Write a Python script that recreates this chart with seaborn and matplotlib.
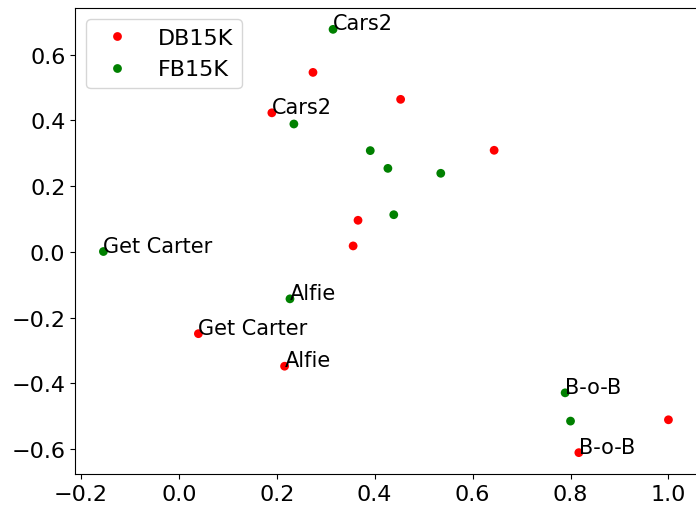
import pandas as pd
import seaborn as sns
import matplotlib
matplotlib.use('Agg')
import matplotlib.pyplot as plt

# DB15K embeddings (red)
db_labels = ['Cars2', '', '', '', '', '', 'Get Carter', 'Alfie', '', 'B-o-B']
db_x = [0.190, 0.274, 0.453, 0.644, 0.366, 0.356, 0.040, 0.216, 1.000, 0.817]
db_y = [0.423, 0.546, 0.464, 0.309, 0.096, 0.018, -0.249, -0.348, -0.511, -0.611]

# FB15K embeddings (green)
fb_labels = ['Cars2', '', '', '', '', '', 'Get Carter', 'Alfie', 'B-o-B', '']
fb_x = [0.315, 0.235, 0.391, 0.427, 0.535, 0.439, -0.154, 0.227, 0.789, 0.800]
fb_y = [0.677, 0.389, 0.308, 0.254, 0.239, 0.113, 0.001, -0.143, -0.429, -0.515]

df = pd.concat([
    pd.DataFrame({'x': db_x, 'y': db_y, 'label': db_labels, 'kg': 'DB15K'}),
    pd.DataFrame({'x': fb_x, 'y': fb_y, 'label': fb_labels, 'kg': 'FB15K'}),
], ignore_index=True)

fig, ax = plt.subplots(figsize=(6.96, 5.1), dpi=100)
fig.subplots_adjust(left=0.108, right=1.001, top=0.982, bottom=0.069)

sns.scatterplot(data=df, x='x', y='y', hue='kg', hue_order=['DB15K', 'FB15K'],
                palette={'DB15K': 'red', 'FB15K': 'green'}, s=40, linewidth=0, ax=ax)

for _, r in df.iterrows():
    if r['label']:
        ax.annotate(r['label'], (r['x'], r['y']), fontsize=15)

ax.set_xlabel('')
ax.set_ylabel('')
ax.tick_params(labelsize=16)
ax.legend(fontsize=16, loc='upper left')

plt.savefig('out.png', dpi=100)
